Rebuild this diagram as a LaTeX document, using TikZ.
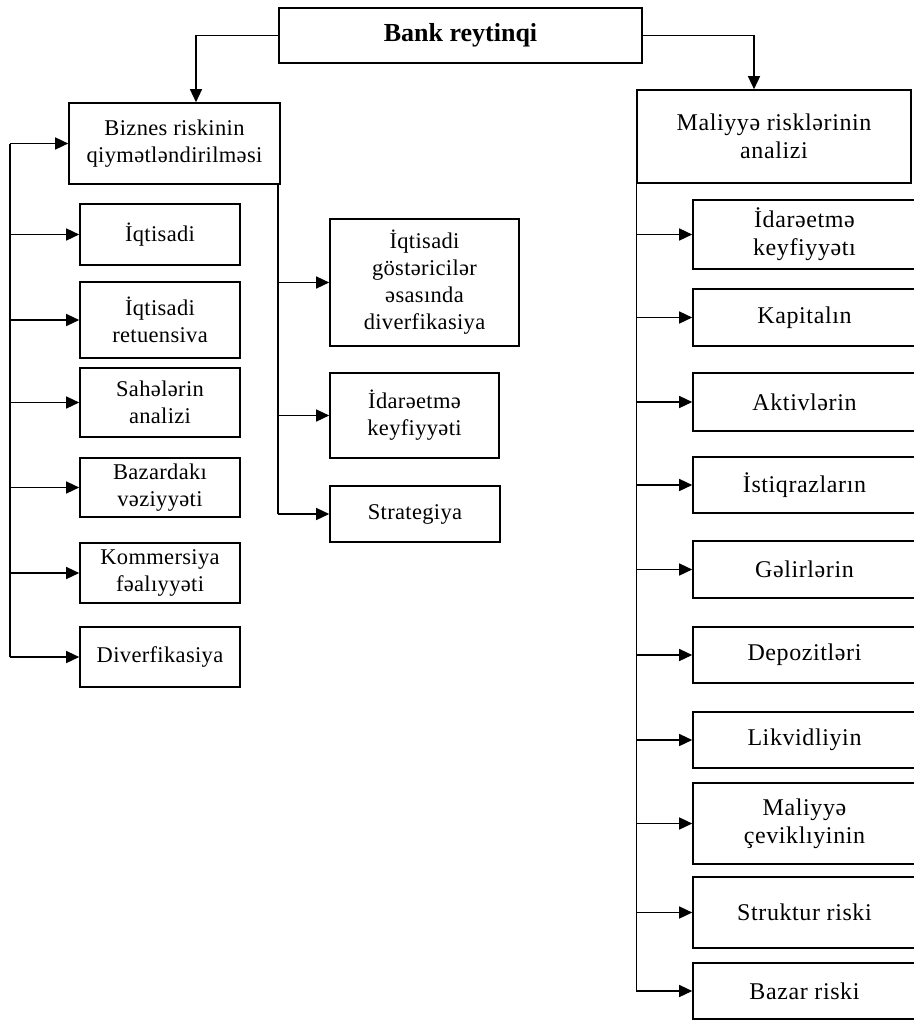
\documentclass[tikz,border=0pt]{standalone}
\usepackage{fontspec}
\setmainfont{Liberation Serif}
\newfontfamily\lfont[LetterSpace=1.5]{Liberation Serif}
\newfontfamily\rfont[LetterSpace=2.5]{Liberation Serif}
\usetikzlibrary{arrows.meta}
\begin{document}
\begin{tikzpicture}[x=1pt,y=-1pt,
  box/.style={draw,line width=1.6pt,inner sep=0pt,align=center,
    font=\lfont\fontsize{22.5}{27}\selectfont},
  rbox/.style={box,font=\rfont\fontsize{24}{28}\selectfont},
  arr/.style={line width=1.4pt,-{Triangle[length=13pt,width=12pt]}},
  bus/.style={line width=1.4pt}]
\useasboundingbox (0,0) rectangle (913,1020);

% root
\node[box,minimum width=363pt,minimum height=55pt,
  font=\fontsize{26}{30}\selectfont\bfseries] (top) at (460.5,35.5) {Bank reytinqi};

% two main branches
\node[box,minimum width=211pt,minimum height=81pt] (biz) at (174.5,143.5)
  {Biznes riskinin\\qiymətləndirilməsi};
\node[rbox,minimum width=274pt,minimum height=93pt] (mal) at (774,136.5)
  {Maliyyə risklərinin\\analizi};

% left column
\node[box,minimum width=160pt,minimum height=61pt] (l1) at (160,234.5) {İqtisadi};
\node[box,minimum width=160pt,minimum height=76pt] (l2) at (160,320) {İqtisadi\\retuensiva};
\node[box,minimum width=160pt,minimum height=69pt] (l3) at (160,402.5) {Sahələrin\\analizi};
\node[box,minimum width=160pt,minimum height=59pt] (l4) at (160,487.5) {Bazardakı\\vəziyyəti};
\node[box,minimum width=160pt,minimum height=60pt] (l5) at (160,573) {Kommersiya\\fəalıyyəti};
\node[box,minimum width=160pt,minimum height=60pt] (l6) at (160,657) {Diverfikasiya};

% middle column
\node[box,minimum width=189pt,minimum height=127pt] (m1) at (424.5,282.5)
  {İqtisadi\\göstəricilər\\əsasında\\diverfikasiya};
\node[box,minimum width=169pt,minimum height=85pt] (m2) at (414.5,415.5) {İdarəetmə\\keyfiyyəti};
\node[box,minimum width=170pt,minimum height=56pt] (m3) at (415,514) {Strategiya};

% right column
\node[rbox,minimum width=223pt,minimum height=69pt] (r1) at (804.5,234.5) {İdarəetmə\\keyfiyyətı};
\node[rbox,minimum width=223pt,minimum height=57pt] (r2) at (804.5,317.5) {Kapitalın};
\node[rbox,minimum width=223pt,minimum height=58pt] (r3) at (804.5,402) {Aktivlərin};
\node[rbox,minimum width=223pt,minimum height=56pt] (r4) at (804.5,485) {İstiqrazların};
\node[rbox,minimum width=223pt,minimum height=57pt] (r5) at (804.5,569.5) {Gəlirlərin};
\node[rbox,minimum width=223pt,minimum height=56pt] (r6) at (804.5,655) {Depozitləri};
\node[rbox,minimum width=223pt,minimum height=56pt] (r7) at (804.5,740) {Likvidliyin};
\node[rbox,minimum width=223pt,minimum height=81pt] (r8) at (804.5,823.5) {Maliyyə\\çeviklıyinin};
\node[rbox,minimum width=223pt,minimum height=71pt] (r9) at (804.5,912.5) {Struktur riski};
\node[rbox,minimum width=223pt,minimum height=56pt] (r10) at (804.5,991) {Bazar riski};

% root connectors
\coordinate (lt) at (196,0);
\coordinate (rt) at (754,0);
\draw[arr] (top.west) -| (lt |- biz.north);
\draw[arr] (top.east) -| (rt |- mal.north);

% left bus
\coordinate (lb) at (10,0);
\draw[bus] (lb |- biz.west) -- (lb |- l6.west);
\draw[arr] (lb |- biz.west) -- (biz.west);
\foreach \n in {l1,l2,l3,l4,l5,l6}
  \draw[arr] (lb |- \n.west) -- (\n.west);

% middle bus
\coordinate (mb) at (278,0);
\draw[bus] (mb |- biz.south) -- (mb |- m3.west);
\foreach \n in {m1,m2,m3}
  \draw[arr] (mb |- \n.west) -- (\n.west);

% right bus
\draw[bus] (mal.south west) -- (mal.south west |- r10.west);
\foreach \n in {r1,r2,r3,r4,r5,r6,r7,r8,r9,r10}
  \draw[arr] (mal.south west |- \n.west) -- (\n.west);
\end{tikzpicture}
\end{document}
